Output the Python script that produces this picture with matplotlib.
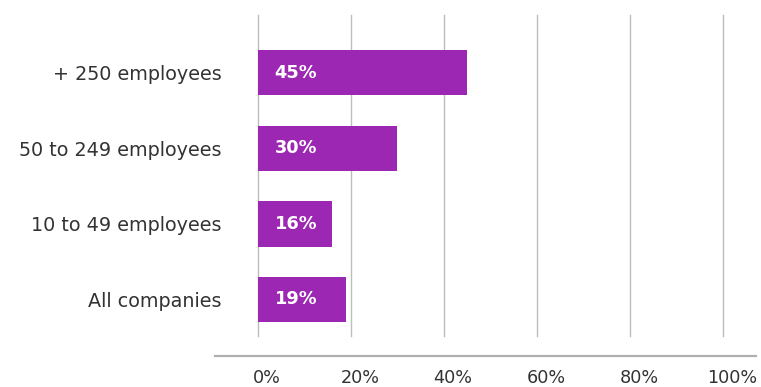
import matplotlib.pyplot as plt
import matplotlib.transforms as mtransforms
from matplotlib.lines import Line2D

# categories from bottom to top
categorias = ['All companies', '10 to 49 employees', '50 to 249 employees', '+ 250 employees']
valores = [19, 16, 30, 45]
ticks_x = [0, 20, 40, 60, 80, 100]

roxo = '#9c27b3'
cinza_texto = '#333333'

plt.rcParams['font.family'] = ['DejaVu Sans']

fig = plt.figure(figsize=(7.61, 3.87), dpi=100)
ax = fig.add_axes([0.339, 0.132, 0.611, 0.829])

pos = list(range(len(categorias)))
ax.barh(pos, valores, height=0.6, color=roxo, zorder=3)

# value inside each bar
for p, v in zip(pos, valores):
    ax.annotate(f'{v}%', xy=(0, p), xytext=(12, 0), textcoords='offset points',
                ha='left', va='center', color='white', fontsize=12.8,
                fontweight='bold', zorder=4)

ax.set_xlim(0, 100)
ax.set_ylim(-0.482, 3.76)
ax.set_yticks(pos)
ax.set_yticklabels(categorias, fontsize=13.8, color=cinza_texto)
ax.set_xticks(ticks_x)
ax.set_xticklabels([f'{t}%' for t in ticks_x], fontsize=12.7, color=cinza_texto)
ax.tick_params(axis='y', length=0, pad=26)
ax.tick_params(axis='x', length=0, pad=24)

# shift x tick labels a bit to the right
desloc = mtransforms.ScaledTranslation(6.5 / 72, 0, fig.dpi_scale_trans)
for lbl in ax.get_xticklabels():
    lbl.set_transform(lbl.get_transform() + desloc)

ax.grid(axis='x', color='#bdbdbd', linewidth=1, zorder=0)
for g in ax.get_xgridlines():
    g.set_clip_on(False)
for s in ax.spines.values():
    s.set_visible(False)

# baseline under the grid
fig.add_artist(Line2D([0.2825, 0.9934], [0.0801, 0.0801], color='#b0b0b0',
                      linewidth=1.6, transform=fig.transFigure))

fig.savefig('out.png', dpi=100)
